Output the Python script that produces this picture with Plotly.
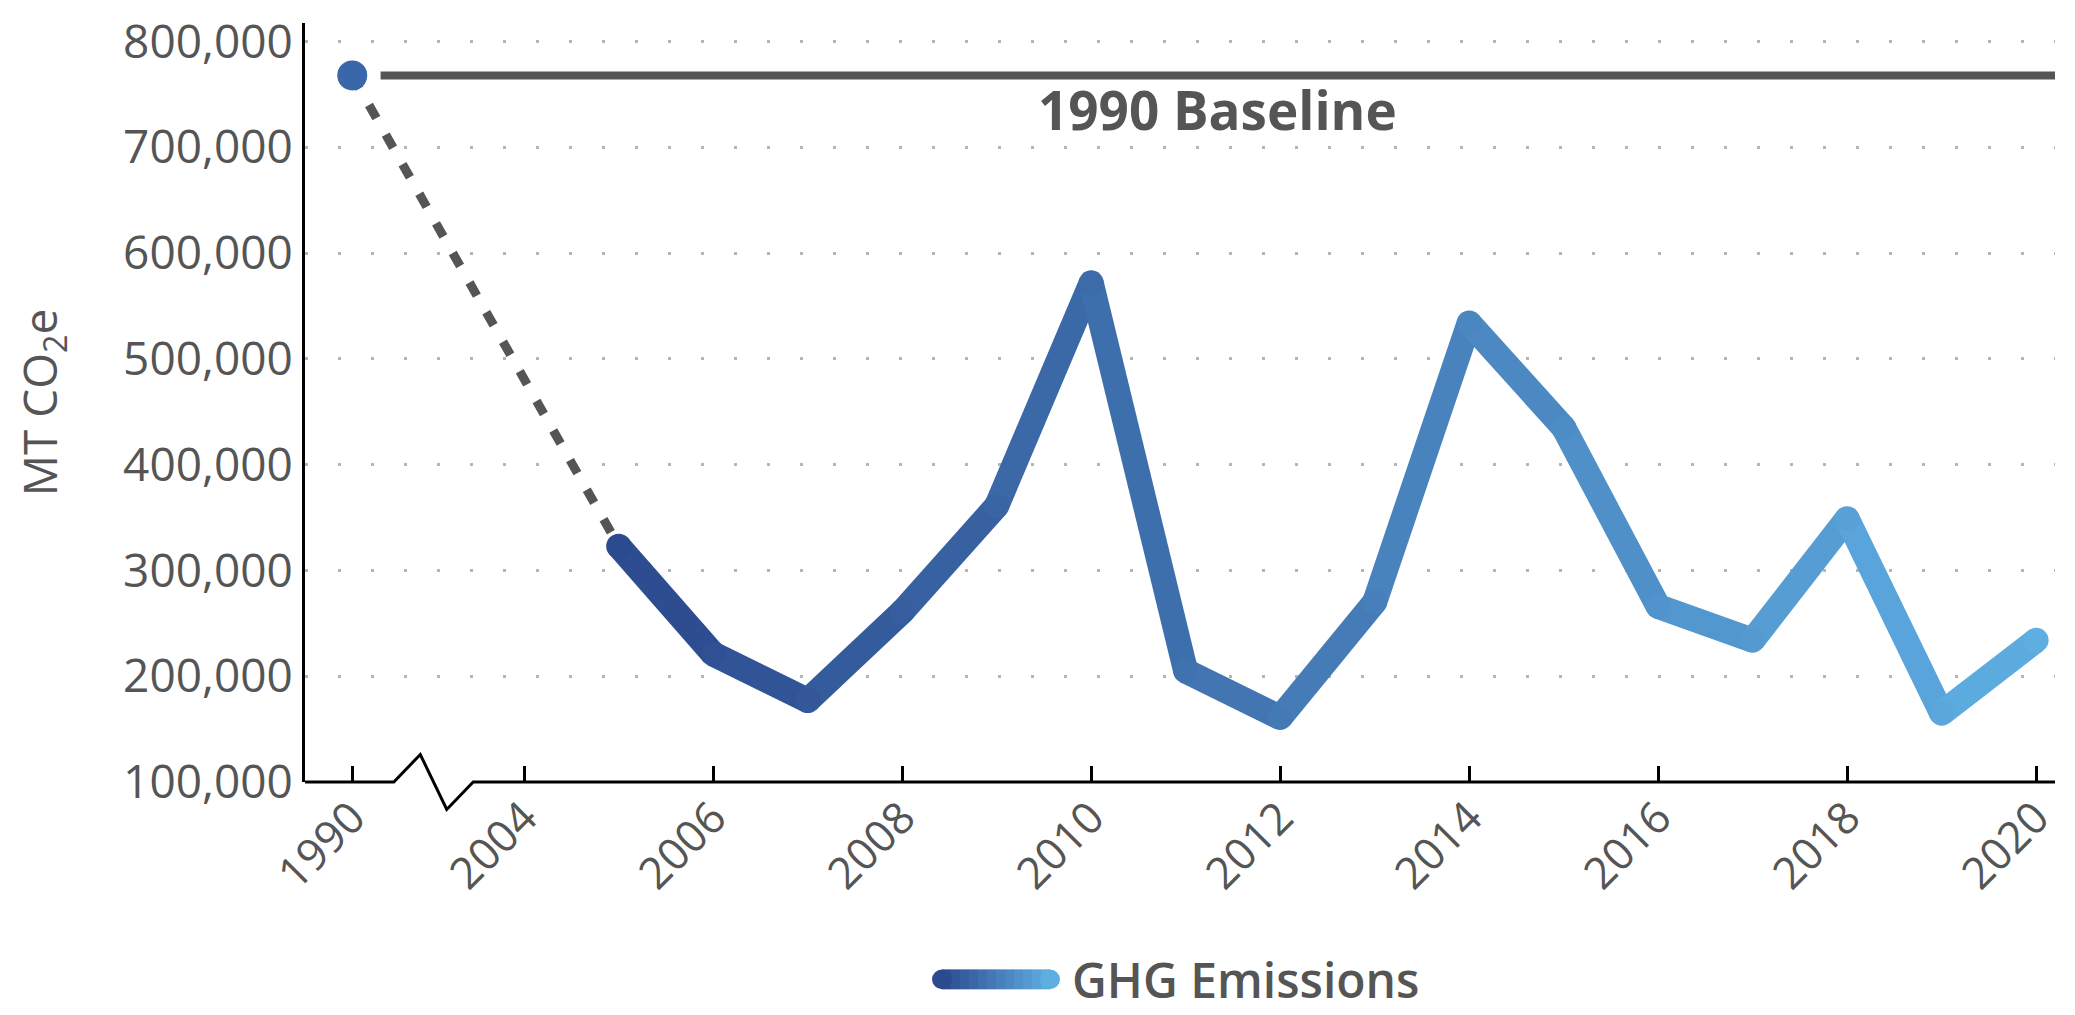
import plotly.graph_objects as go

# ---------------- data ----------------
years = [2005, 2006, 2007, 2008, 2009, 2010, 2011, 2012,
         2013, 2014, 2015, 2016, 2017, 2018, 2019, 2020]
emissions = [323000, 221000, 177000, 261000, 361000, 572000, 205000, 161000,
             270000, 534000, 435000, 266000, 234000, 349000, 165000, 234000]
baseline_year = 1990
baseline_value = 768000
tick_years = [1990, 2004, 2006, 2008, 2010, 2012, 2014, 2016, 2018, 2020]
y_ticks = [100000, 200000, 300000, 400000, 500000, 600000, 700000, 800000]
series_name = "GHG Emissions"
baseline_label = "1990 Baseline"

# ---------------- layout constants ----------------
X_1990 = 2002.18           # display position of 1990, left of the axis break
X_RANGE = [2001.68, 2020.2]
Y_RANGE = [100000, 817600]
OFF = 8                    # default page body margin
W, H = 2075 - OFF, 1015 - OFF
M = dict(l=305 - OFF, r=20, t=9 - OFF, b=233)
PW = W - M["l"] - M["r"]
PH = H - M["t"] - M["b"]
FONT = "Open Sans"
GREY = "#555555"
C0 = (0x2c, 0x4a, 0x8e)
C1 = (0x5e, 0xae, 0xe2)
LW = 25


def lerp(t):
    r, g, b = (round(a + (c - a) * t) for a, c in zip(C0, C1))
    return f"rgb({r},{g},{b})"


def xp(xv):
    return (xv - X_RANGE[0]) / (X_RANGE[1] - X_RANGE[0])


def xpos(year):
    return X_1990 if year == baseline_year else year


fig = go.Figure()

# dashed connector from 1990 to the first year
fig.add_trace(go.Scatter(
    x=[xpos(baseline_year), years[0]], y=[baseline_value, emissions[0]],
    mode="lines", line=dict(color=GREY, width=9, dash="15px,19px"),
    showlegend=False, hoverinfo="skip"))

# gradient emissions line (one segment per pair of years)
n = len(years)
for i in range(n - 1):
    t = (i + 0.5) / (n - 1)
    fig.add_trace(go.Scatter(
        x=years[i:i + 2], y=emissions[i:i + 2], mode="lines",
        line=dict(color=lerp(t), width=LW),
        showlegend=False, hoverinfo="skip"))
fig.add_trace(go.Scatter(
    x=years, y=emissions, mode="markers",
    marker=dict(size=LW, color=[lerp(i / (n - 1)) for i in range(n)], line_width=0),
    name=series_name, showlegend=False,
    hovertemplate="%{x}: %{y:,}<extra></extra>"))

# baseline line
base_x0 = xpos(baseline_year) + 0.30
fig.add_trace(go.Scatter(
    x=[base_x0, X_RANGE[1]], y=[baseline_value, baseline_value], mode="lines",
    line=dict(color=GREY, width=8), showlegend=False, hoverinfo="skip", cliponaxis=False))
# 1990 point
fig.add_trace(go.Scatter(
    x=[xpos(baseline_year)], y=[baseline_value], mode="markers",
    marker=dict(size=30, color="#3a66aa", line_width=0),
    showlegend=False, hovertemplate="1990: %{y:,}<extra></extra>"))

fig.add_annotation(
    x=(base_x0 + X_RANGE[1]) / 2, y=baseline_value, xref="x", yref="y",
    text=f"<b>{baseline_label}</b>", showarrow=False, yanchor="top", yshift=4,
    font=dict(family=FONT, size=53, color=GREY))

# x-axis line with break
bx = [2002.62, 2002.90, 2003.18, 2003.46]
dy = 28 / PH
path = (f"M 0,0 L {xp(bx[0])},0 L {xp(bx[1])},{dy} L {xp(bx[2])},{-dy} "
        f"L {xp(bx[3])},0 L 1,0")
fig.add_shape(type="path", path=path, xref="paper", yref="paper",
              line=dict(color="black", width=3))

# custom legend with gradient swatch
ly = -201 / PH
sx0, sx1 = (942 - 305) / PW, (1050 - 305) / PW
nseg = 12
for k in range(nseg):
    a = sx0 + (sx1 - sx0) * k / nseg
    b = sx0 + (sx1 - sx0) * (k + 1) / nseg
    fig.add_shape(type="line", xref="paper", yref="paper", x0=a, x1=b, y0=ly, y1=ly,
                  line=dict(color=lerp((k + 0.5) / nseg), width=20))
rx, ry = 10 / PW, 10 / PH
for cx, col in ((sx0, lerp(0)), (sx1, lerp(1))):
    fig.add_shape(type="circle", xref="paper", yref="paper",
                  x0=cx - rx, x1=cx + rx, y0=ly - ry, y1=ly + ry,
                  fillcolor=col, line_width=0)
fig.add_annotation(x=(1070 - 305) / PW, y=ly, xref="paper", yref="paper",
                   xanchor="left", yanchor="middle", showarrow=False,
                   text=series_name, font=dict(family=FONT, size=48, color=GREY, weight=600))

fig.update_layout(
    width=W, height=H, margin=M, plot_bgcolor="white", paper_bgcolor="white",
    font=dict(family=FONT, color=GREY), showlegend=False,
    xaxis=dict(range=X_RANGE, tickvals=[xpos(y) for y in tick_years],
               ticktext=[str(y) for y in tick_years], tickangle=-45,
               ticks="inside", ticklen=16, tickwidth=3, tickcolor="black",
               showgrid=False, zeroline=False, showline=False,
               tickfont=dict(family=FONT, size=44, color=GREY)),
    yaxis=dict(range=Y_RANGE, tickvals=y_ticks, tickformat=",", ticks="",
               showline=True, linecolor="black", linewidth=3,
               showgrid=True, gridcolor="#b5b5b5", gridwidth=3, griddash="3px,30px",
               zeroline=False, ticklabelstandoff=0, ticklabeloverflow="allow",
               tickfont=dict(family=FONT, size=46, color=GREY),
               title=dict(text="MT CO<sub>2</sub>e", standoff=52,
                          font=dict(family=FONT, size=46, color=GREY))),
)

fig.write_html("out.html")
